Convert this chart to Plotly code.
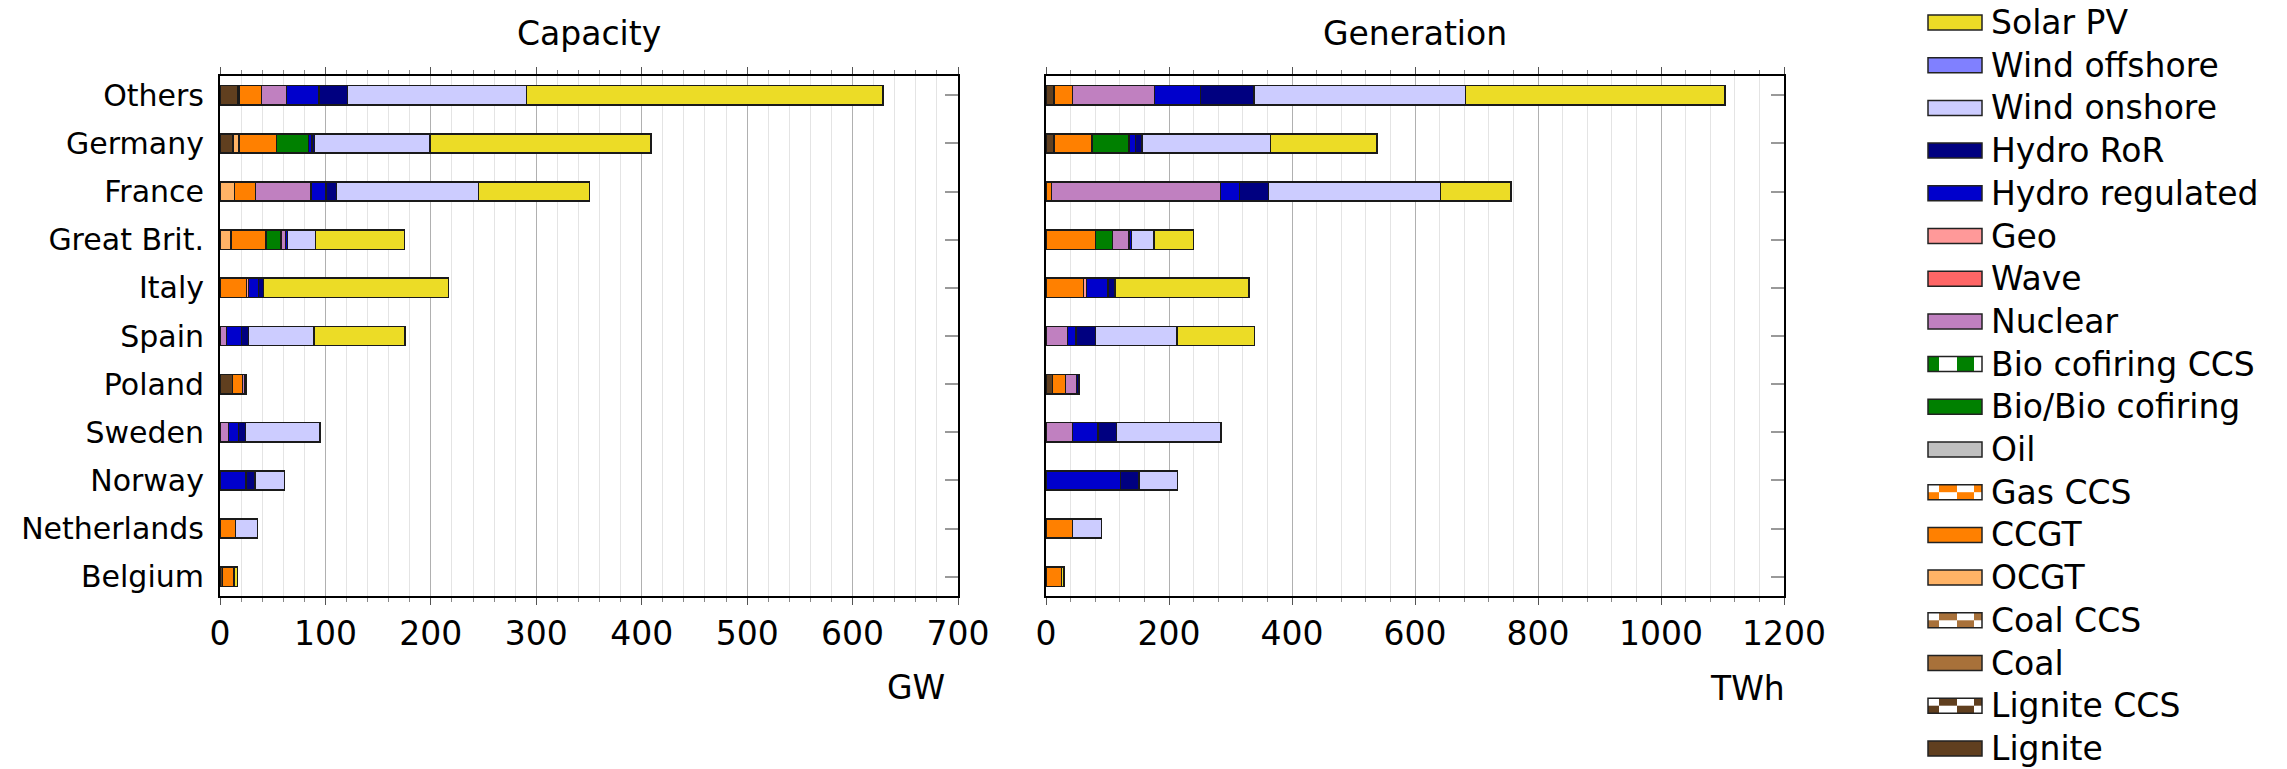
import plotly.graph_objects as go

W, H = 2287, 769

countries = ["Others", "Germany", "France", "Great Brit.", "Italy", "Spain",
             "Poland", "Sweden", "Norway", "Netherlands", "Belgium"]

# ---- Capacity (GW), one value per country ----
cap_lignite   = [17, 12, 0, 0, 0, 0, 11.7, 0, 0, 0, 2.2]
cap_coal      = [0, 1, 0, 0, 0, 0, 0, 0, 0, 0, 0]
cap_ocgt      = [1.5, 5, 13.6, 10.4, 0, 0, 0, 0, 0, 0, 0]
cap_ccgt      = [21, 35.7, 19.9, 33.2, 25.3, 0, 9.5, 0, 0, 14.9, 11.1]
cap_bio       = [0, 30.4, 0, 14.3, 0, 0, 0, 0, 0, 0, 0]
cap_nuclear   = [23.5, 0, 52.8, 4, 0, 6.3, 2.5, 7.9, 0, 0, 0]
cap_geo       = [0, 0, 0, 0, 1.6, 0, 0, 0, 0, 0, 0]
cap_hydro_reg = [31, 3, 14.2, 2, 9.5, 14.3, 0, 9.5, 24.7, 0, 0]
cap_hydro_ror = [27, 2.4, 10.2, 0, 4.7, 6.3, 1.6, 6.9, 8.5, 0, 0]
cap_wind_on   = [169.5, 109.7, 134.6, 26.5, 0, 62.3, 0, 70.5, 27.8, 20.5, 0]
cap_solar     = [338.5, 209.6, 105, 84.4, 175.8, 86.3, 0, 0, 0, 0, 3.5]

# ---- Generation (TWh) ----
gen_lignite   = [12, 13, 0, 0, 0, 0, 10.8, 0, 0, 0, 0]
gen_coal      = [0, 0, 0, 0, 0, 0, 0, 0, 0, 0, 0]
gen_ocgt      = [2, 0, 0, 0, 0, 0, 0, 0, 0, 0, 0]
gen_ccgt      = [28.7, 62.1, 9.2, 80.5, 61.1, 0, 21.1, 0, 0, 43.2, 25.4]
gen_bio       = [0, 59.5, 0, 27.6, 0, 0, 0, 0, 0, 0, 0]
gen_nuclear   = [134, 0, 274.6, 27, 0, 35.1, 17.8, 43.2, 0, 0, 0]
gen_geo       = [0, 0, 0, 0, 4.9, 0, 0, 0, 0, 0, 0]
gen_hydro_reg = [74.6, 11.3, 30.8, 3.8, 35.1, 13.5, 0, 41.7, 121.1, 0, 0]
gen_hydro_ror = [86.5, 10.3, 47.5, 0, 10.8, 31.9, 3.8, 29.7, 30.2, 0, 0]
gen_wind_on   = [344.3, 208.6, 279.5, 36.8, 0, 132.5, 0, 170.3, 62.2, 47.1, 0]
gen_solar     = [422, 173.5, 114.6, 63.8, 217.8, 125.9, 0, 0, 0, 0, 3.8]

stack_order = [
    ("Lignite", cap_lignite, gen_lignite),
    ("Coal", cap_coal, gen_coal),
    ("OCGT", cap_ocgt, gen_ocgt),
    ("CCGT", cap_ccgt, gen_ccgt),
    ("Bio/Bio cofiring", cap_bio, gen_bio),
    ("Nuclear", cap_nuclear, gen_nuclear),
    ("Geo", cap_geo, gen_geo),
    ("Hydro regulated", cap_hydro_reg, gen_hydro_reg),
    ("Hydro RoR", cap_hydro_ror, gen_hydro_ror),
    ("Wind onshore", cap_wind_on, gen_wind_on),
    ("Solar PV", cap_solar, gen_solar),
]

colors = {
    "Solar PV": "#ecdc26",
    "Wind offshore": "#8080ff",
    "Wind onshore": "#ccccff",
    "Hydro RoR": "#000080",
    "Hydro regulated": "#0000cc",
    "Geo": "#ff9999",
    "Wave": "#ff6666",
    "Nuclear": "#c080c0",
    "Bio cofiring CCS": "#008000",
    "Bio/Bio cofiring": "#008000",
    "Oil": "#c0c0c0",
    "Gas CCS": "#ff8000",
    "CCGT": "#ff8000",
    "OCGT": "#ffb366",
    "Coal CCS": "#a8713a",
    "Coal": "#a8713a",
    "Lignite CCS": "#603f1f",
    "Lignite": "#603f1f",
}

legend_items = ["Solar PV", "Wind offshore", "Wind onshore", "Hydro RoR",
                "Hydro regulated", "Geo", "Wave", "Nuclear", "Bio cofiring CCS",
                "Bio/Bio cofiring", "Oil", "Gas CCS", "CCGT", "OCGT", "Coal CCS",
                "Coal", "Lignite CCS", "Lignite"]
legend_pattern = {"Bio cofiring CCS": "stripe", "Gas CCS": "check",
                  "Coal CCS": "check", "Lignite CCS": "check"}

FONT = "DejaVu Sans"
fig = go.Figure()

for name, cap, gen in stack_order:
    for vals, xa, ya in ((cap, "x", "y"), (gen, "x2", "y2")):
        if not any(vals):
            continue
        fig.add_trace(go.Bar(
            x=[v if v else None for v in vals], y=countries, orientation="h",
            name=name, marker=dict(color=colors[name], line=dict(color="#1a1a1a", width=1.5)),
            width=0.4, xaxis=xa, yaxis=ya, showlegend=False,
        ))

def px_x(p):
    return p / W

def px_y(p):
    return 1 - p / H

ydom = [px_y(596), px_y(76)]

def xaxis_cfg(dom, rng, dtick, mdtick, anchor):
    return dict(
        domain=dom, range=rng, dtick=dtick, tick0=0, anchor=anchor,
        ticks="outside", ticklen=7, tickwidth=1.2, tickcolor="#555",
        mirror="allticks", showline=True, linecolor="black", linewidth=2,
        showgrid=True, gridcolor="#b0b0b0", gridwidth=1.2, zeroline=False,
        minor=dict(dtick=mdtick, ticks="outside", ticklen=4, tickcolor="#888",
                   showgrid=True, gridcolor="#e4e4e4", gridwidth=1),
        tickfont=dict(family=FONT, size=33, color="black"),
        automargin=False,
    )

def yaxis_cfg(show_labels, anchor):
    return dict(
        domain=ydom, type="category", categoryorder="array", categoryarray=countries,
        range=[10.4, -0.4], anchor=anchor, ticks="inside", ticklen=13,
        tickcolor="#999", tickwidth=1.5, mirror="allticks", showline=True,
        linecolor="black", linewidth=2, showgrid=False, layer="below traces",
        showticklabels=show_labels, ticklabelstandoff=8,
        tickfont=dict(family=FONT, size=30, color="black"),
        automargin=False,
    )

fig.update_layout(
    width=W, height=H, barmode="stack", bargap=0.6,
    margin=dict(l=0, r=0, t=0, b=0, autoexpand=False), autosize=False,
    paper_bgcolor="white", plot_bgcolor="white",
    font=dict(family=FONT, color="black"),
    xaxis=xaxis_cfg([px_x(220), px_x(958)], [0, 700], 100, 20, "y"),
    xaxis2=xaxis_cfg([px_x(1046), px_x(1784)], [0, 1200], 200, 40, "y2"),
    yaxis=yaxis_cfg(True, "x"),
    yaxis2=yaxis_cfg(False, "x2"),
)

annotations = [
    dict(text="Capacity", x=px_x(589), y=px_y(33), xanchor="center", yanchor="middle"),
    dict(text="Generation", x=px_x(1415), y=px_y(33), xanchor="center", yanchor="middle"),
    dict(text="GW", x=px_x(947), y=px_y(687), xanchor="right", yanchor="middle"),
    dict(text="TWh", x=px_x(1787), y=px_y(688), xanchor="right", yanchor="middle"),
]
for a in annotations:
    a.update(xref="paper", yref="paper", showarrow=False,
             font=dict(family=FONT, size=33, color="black"))
    fig.add_annotation(**a)

# ---- custom legend ----
sx0, sx1 = 1928, 1982
sh = 15
row0, rstep = 22.5, 42.7
cols = [1928, 1939, 1957, 1974, 1982]
shapes = []
for i, name in enumerate(legend_items):
    yc = row0 + i * rstep
    y0, y1 = yc - sh / 2, yc + sh / 2
    pat = legend_pattern.get(name)
    base = "white" if pat else colors[name]
    shapes.append(dict(type="rect", xref="paper", yref="paper",
                       x0=px_x(sx0), x1=px_x(sx1), y0=px_y(y1), y1=px_y(y0),
                       fillcolor=base, line=dict(width=0)))
    if pat == "stripe":
        for k in (0, 2):
            shapes.append(dict(type="rect", xref="paper", yref="paper",
                               x0=px_x(cols[k]), x1=px_x(cols[k + 1]),
                               y0=px_y(y1), y1=px_y(y0),
                               fillcolor=colors[name], line=dict(width=0)))
    elif pat == "check":
        ym = yc
        for k in range(4):
            for r, (ra, rb) in enumerate(((y0, ym), (ym, y1))):
                if (k + r) % 2 == 1:
                    shapes.append(dict(type="rect", xref="paper", yref="paper",
                                       x0=px_x(cols[k]), x1=px_x(cols[k + 1]),
                                       y0=px_y(rb), y1=px_y(ra),
                                       fillcolor=colors[name], line=dict(width=0)))
    shapes.append(dict(type="rect", xref="paper", yref="paper",
                       x0=px_x(sx0), x1=px_x(sx1), y0=px_y(y1), y1=px_y(y0),
                       fillcolor="rgba(0,0,0,0)", line=dict(color="#222", width=1.5)))
    fig.add_annotation(text=name, xref="paper", yref="paper", x=px_x(1989), y=px_y(yc),
                       xanchor="left", yanchor="middle", showarrow=False,
                       font=dict(family=FONT, size=33, color="black"))

fig.update_layout(shapes=shapes)
fig.write_html("out.html", config={"displayModeBar": False},
               post_script=("document.body.style.margin='0';document.body.style.overflow='hidden';"
                            "document.documentElement.style.overflow='hidden';"))
